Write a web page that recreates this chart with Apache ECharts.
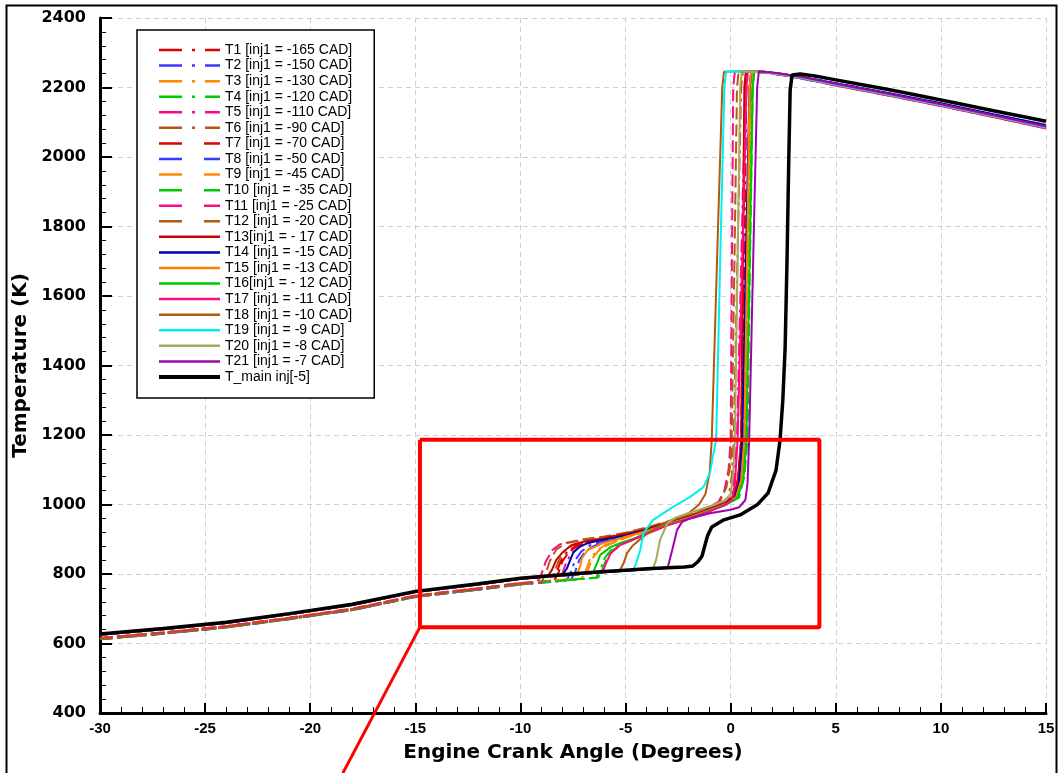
<!DOCTYPE html>
<html><head><meta charset="utf-8">
<script src="https://cdn.jsdelivr.net/npm/echarts@6/dist/echarts.min.js"></script>
<style>html,body{margin:0;padding:0;background:#fff}#c{width:1058px;height:773px}</style>
</head><body><div id="c"></div>
<script>
// ---------------- DATA ----------------
const xTicks = [-30,-25,-20,-15,-10,-5,0,5,10,15];
const yTicks = [400,600,800,1000,1200,1400,1600,1800,2000,2200,2400];
const seriesNames = [
 "T1 [inj1 = -165 CAD]","T2 [inj1 = -150 CAD]","T3 [inj1 = -130 CAD]","T4 [inj1 = -120 CAD]",
 "T5 [inj1 = -110 CAD]","T6 [inj1 = -90 CAD]","T7 [inj1 = -70 CAD]","T8 [inj1 = -50 CAD]",
 "T9 [inj1 = -45 CAD]","T10 [inj1 = -35 CAD]","T11 [inj1 = -25 CAD]","T12 [inj1 = -20 CAD]",
 "T13[inj1 = - 17 CAD]","T14 [inj1 = -15 CAD]","T15 [inj1 = -13 CAD]","T16[inj1 = - 12 CAD]",
 "T17 [inj1 = -11 CAD]","T18 [inj1 = -10 CAD]","T19 [inj1 = -9 CAD]","T20 [inj1 = -8 CAD]",
 "T21 [inj1 = -7 CAD]","T_main inj[-5]"
];
const T1 = [[-30,614],[-27,630],[-24,648],[-21,672],[-18,698],[-15,736],[-12,757],[-10,772],[-9,777],[-8.5,780],[-8.3,800],[-8.1,835],[-7.8,862],[-7.4,880],[-6.8,892],[-6,902],[-5,914],[-4,929],[-3,947],[-2,965],[-1,987],[-0.2,1005],[0.2,1022],[0.4,1070],[0.55,1186],[0.65,1700],[0.75,2200],[0.83,2246],[1.5,2245],[2.5,2236],[3.5,2226],[5,2208],[7.5,2180],[10,2150],[12.5,2118],[15,2087]];
const T2 = [[-30,612],[-27,628],[-24,646],[-21,670],[-18,696],[-15,734],[-12,755],[-10,770],[-9,775],[-8,780],[-7.8,783],[-7.6,805],[-7.4,840],[-7.1,865],[-6.7,882],[-6,895],[-5,910],[-4,926],[-3,946],[-2,963],[-1,986],[-0.2,1004],[0.25,1022],[0.45,1070],[0.6,1186],[0.78,1700],[0.95,2200],[1.03,2246],[1.6,2244],[2.5,2237],[3.5,2227],[5,2210],[7.5,2182],[10,2153],[12.5,2121],[15,2090]];
const T3 = [[-30,616],[-27,632],[-24,650],[-21,674],[-18,700],[-15,738],[-12,759],[-10,774],[-9,779],[-8,784],[-7.1,786],[-6.9,808],[-6.7,842],[-6.4,866],[-6,882],[-5,905],[-4,924],[-3,944],[-2,962],[-1,984],[-0.2,1002],[0.3,1022],[0.55,1075],[0.7,1186],[0.82,1700],[0.95,2200],[1.03,2246],[1.6,2245],[2.5,2238],[3.5,2228],[5,2211],[7.5,2181],[10,2151],[12.5,2119],[15,2088]];
const T4 = [[-30,613],[-27,629],[-24,647],[-21,671],[-18,697],[-15,735],[-12,756],[-10,771],[-9,776],[-8,781],[-7,786],[-6.4,789],[-6.2,812],[-6,845],[-5.7,868],[-5.3,884],[-4.6,900],[-4,918],[-3,942],[-2,961],[-1,983],[-0.2,1001],[0.35,1020],[0.6,1075],[0.75,1186],[0.88,1700],[1,2200],[1.08,2246],[1.6,2244],[2.5,2236],[3.5,2225],[5,2207],[7.5,2178],[10,2148],[12.5,2116],[15,2084]];
const T5 = [[-30,615],[-27,631],[-24,649],[-21,673],[-18,699],[-15,737],[-12,758],[-10,773],[-9,778],[-8.2,781],[-8,803],[-7.8,838],[-7.5,864],[-7.1,881],[-6.5,893],[-5.5,906],[-4.5,920],[-3.5,937],[-2.5,955],[-1.5,975],[-0.6,996],[0,1012],[0.15,1060],[0.3,1186],[0.5,1700],[0.7,2200],[0.78,2246],[1.5,2244],[2.5,2235],[3.5,2224],[5,2206],[7.5,2177],[10,2147],[12.5,2115],[15,2083]];
const T6 = [[-30,613],[-27,629],[-24,647],[-21,671],[-18,697],[-15,735],[-12,756],[-10,771],[-9,776],[-8.6,779],[-8.4,801],[-8.2,836],[-7.9,866],[-7.5,884],[-6.8,895],[-6,905],[-5,917],[-4,932],[-3,950],[-2,968],[-1.2,986],[-0.5,1003],[-0.1,1020],[0.05,1080],[0.15,1186],[0.32,1700],[0.5,2200],[0.58,2246],[1.4,2245],[2.5,2237],[3.5,2227],[5,2209],[7.5,2180],[10,2150],[12.5,2118],[15,2086]];
const T7 = [[-30,616],[-27,632],[-24,650],[-21,674],[-18,700],[-15,738],[-12,759],[-10,774],[-9,778],[-8.4,780],[-8.2,802],[-8,837],[-7.7,863],[-7.3,881],[-6.7,893],[-6,903],[-5,915],[-4,930],[-3,948],[-2,966],[-1,988],[-0.2,1006],[0.15,1022],[0.35,1070],[0.5,1186],[0.6,1700],[0.7,2200],[0.78,2246],[1.5,2245],[2.5,2237],[3.5,2228],[5,2210],[7.5,2181],[10,2151],[12.5,2119],[15,2087]];
const T8 = [[-30,612],[-27,628],[-24,646],[-21,670],[-18,696],[-15,734],[-12,755],[-10,770],[-9,776],[-8,781],[-7.6,784],[-7.4,806],[-7.2,841],[-6.9,865],[-6.5,881],[-5.8,895],[-5,909],[-4,925],[-3,945],[-2,963],[-1,985],[-0.2,1003],[0.25,1021],[0.45,1070],[0.6,1186],[0.75,1700],[0.9,2200],[0.98,2246],[1.6,2245],[2.5,2238],[3.5,2229],[5,2212],[7.5,2183],[10,2154],[12.5,2122],[15,2091]];
const T9 = [[-30,615],[-27,631],[-24,649],[-21,673],[-18,699],[-15,737],[-12,758],[-10,773],[-9,778],[-8,783],[-7,787],[-6.8,809],[-6.6,843],[-6.3,866],[-5.9,882],[-5,904],[-4,923],[-3,943],[-2,961],[-1,983],[-0.2,1001],[0.3,1020],[0.55,1075],[0.7,1186],[0.82,1700],[0.95,2200],[1.03,2246],[1.6,2244],[2.5,2236],[3.5,2226],[5,2208],[7.5,2179],[10,2149],[12.5,2117],[15,2085]];
const T10 = [[-30,613],[-27,629],[-24,647],[-21,671],[-18,697],[-15,735],[-12,756],[-10,771],[-9,776],[-8,781],[-7,786],[-6.3,790],[-6.1,813],[-5.9,846],[-5.6,869],[-5.2,885],[-4.5,901],[-4,917],[-3,941],[-2,960],[-1,982],[-0.2,1000],[0.4,1020],[0.65,1080],[0.8,1186],[0.92,1700],[1.05,2200],[1.13,2246],[1.7,2244],[2.5,2237],[3.5,2227],[5,2209],[7.5,2180],[10,2150],[12.5,2118],[15,2086]];
const T11 = [[-30,615],[-27,631],[-24,649],[-21,673],[-18,699],[-15,737],[-12,758],[-10,773],[-9.2,777],[-9,800],[-8.8,835],[-8.5,868],[-8.1,886],[-7,897],[-6,905],[-5,916],[-4,931],[-3,949],[-2,967],[-1.2,985],[-0.6,1005],[-0.3,1040],[-0.1,1100],[0,1186],[0.06,1700],[0.12,2200],[0.2,2245],[1,2246],[2,2240],[3.3,2227],[5,2207],[7.5,2179],[10,2149],[12.5,2117],[15,2086]];
const T12 = [[-30,613],[-27,629],[-24,647],[-21,671],[-18,697],[-15,735],[-12,756],[-10,771],[-9,776],[-8.8,802],[-8.6,838],[-8.3,870],[-7.8,890],[-7,900],[-6,908],[-5,919],[-4,934],[-3,951],[-2,970],[-1.2,988],[-0.5,1010],[-0.2,1050],[0,1120],[0.05,1186],[0.18,1700],[0.3,2200],[0.38,2246],[1,2246],[2,2241],[3.3,2228],[5,2209],[7.5,2181],[10,2151],[12.5,2119],[15,2089]];
const T13 = [[-30,625],[-27,641],[-24,659],[-21,684],[-18,711],[-15,748],[-12,770],[-10,786],[-9,791],[-8.7,794],[-8.5,812],[-8.3,840],[-8,862],[-7.6,882],[-7,893],[-6,903],[-4.8,918],[-4,928],[-3.4,941],[-2.5,955],[-1.5,975],[-0.8,992],[-0.2,1008],[0.15,1025],[0.35,1075],[0.5,1186],[0.58,1700],[0.65,2200],[0.72,2245],[1.4,2246],[2.5,2238],[3.5,2228],[5,2211],[7.5,2182],[10,2152],[12.5,2120],[15,2088]];
const T14 = [[-30,625],[-27,641],[-24,659],[-21,684],[-18,711],[-15,748],[-12,770],[-10,786],[-9,791],[-8,797],[-7.8,815],[-7.5,860],[-7.2,878],[-6.8,889],[-6.2,897],[-5.6,904],[-5,911],[-4,926],[-3,945],[-2,962],[-1,985],[-0.2,1003],[0.2,1018],[0.4,1060],[0.55,1186],[0.72,1700],[0.9,2200],[0.98,2246],[1.6,2245],[2.5,2239],[3.5,2229],[5,2212],[7.5,2184],[10,2155],[12.5,2123],[15,2092]];
const T15 = [[-30,625],[-27,641],[-24,659],[-21,684],[-18,711],[-15,748],[-12,770],[-10,786],[-9,791],[-8,796],[-7.3,800],[-7.15,825],[-7.07,846],[-6.8,869],[-6.07,889],[-5.5,898],[-5,907],[-4,924],[-3,944],[-2,962],[-1,984],[-0.2,1002],[0.25,1020],[0.5,1070],[0.65,1186],[0.78,1700],[0.9,2200],[0.98,2246],[1.6,2245],[2.5,2237],[3.5,2227],[5,2209],[7.5,2180],[10,2151],[12.5,2119],[15,2087]];
const T16 = [[-30,625],[-27,641],[-24,659],[-21,684],[-18,711],[-15,748],[-12,770],[-10,786],[-9,791],[-8,796],[-7,801],[-6.55,803],[-6.4,825],[-6.2,855],[-5.7,878],[-5.2,890],[-4.6,902],[-4,918],[-3,942],[-2,960],[-1,982],[-0.2,1000],[0.3,1018],[0.6,1070],[0.75,1186],[0.9,1700],[1.05,2200],[1.12,2246],[1.7,2244],[2.5,2236],[3.5,2225],[5,2207],[7.5,2178],[10,2148],[12.5,2116],[15,2084]];
const T17 = [[-30,625],[-27,641],[-24,659],[-21,684],[-18,711],[-15,748],[-12,770],[-10,786],[-9,791],[-8,796],[-7,801],[-6.1,805],[-5.95,828],[-5.7,860],[-5.26,883],[-4.8,895],[-4,915],[-3,940],[-2,959],[-1,980],[-0.3,998],[0.05,1012],[0.2,1060],[0.33,1186],[0.55,1700],[0.75,2200],[0.82,2246],[1.5,2245],[2.5,2236],[3.5,2225],[5,2206],[7.5,2177],[10,2147],[12.5,2115],[15,2082]];
const T18 = [[-30,625],[-27,641],[-24,659],[-21,684],[-18,711],[-15,748],[-12,770],[-10,786],[-9,791],[-8,796],[-7,801],[-6,805],[-5.3,808],[-5.1,830],[-4.93,860],[-4.64,883],[-4.3,900],[-4,915],[-3.5,935],[-3,950],[-2,975],[-1.5,1000],[-1.2,1030],[-1,1091],[-0.9,1186],[-0.65,1700],[-0.4,2200],[-0.32,2245],[0.5,2247],[1.5,2244],[2.5,2237],[3.5,2227],[5,2209],[7.5,2180],[10,2150],[12.5,2118],[15,2086]];
const T19 = [[-30,625],[-27,641],[-24,659],[-21,684],[-18,711],[-15,748],[-12,770],[-10,786],[-9,791],[-8,796],[-7,801],[-6,805],[-5,809],[-4.65,810],[-4.5,830],[-4.3,869],[-4.15,918],[-3.7,955],[-2.74,993],[-1.93,1022],[-1.3,1050],[-0.98,1091],[-0.85,1137],[-0.69,1186],[-0.5,1700],[-0.3,2200],[-0.22,2246],[0.5,2247],[1.5,2244],[2.5,2237],[3.5,2226],[5,2208],[7.5,2179],[10,2149],[12.5,2117],[15,2085]];
const T20 = [[-30,625],[-27,641],[-24,659],[-21,684],[-18,711],[-15,748],[-12,770],[-10,786],[-9,791],[-8,796],[-7,801],[-6,805],[-5,809],[-4,813],[-3.7,815],[-3.55,840],[-3.36,898],[-3,947],[-2.6,963],[-2,975],[-1,995],[-0.3,1010],[0,1030],[0.12,1090],[0.2,1186],[0.33,1700],[0.45,2200],[0.53,2246],[1.3,2246],[2.5,2238],[3.5,2228],[5,2210],[7.5,2181],[10,2151],[12.5,2119],[15,2087]];
const T21 = [[-30,625],[-27,641],[-24,659],[-21,684],[-18,711],[-15,748],[-12,770],[-10,786],[-9,791],[-8,796],[-7,801],[-6,805],[-5,809],[-4,813],[-3,817],[-2.78,869],[-2.55,927],[-2.31,950],[-2,958],[-1,975],[0,985],[0.4,992],[0.7,1013],[0.8,1060],[0.88,1186],[1.07,1700],[1.26,2200],[1.34,2246],[1.9,2244],[2.5,2239],[3.5,2229],[5,2211],[7.5,2182],[10,2152],[12.5,2120],[15,2088]];
const Tmain = [[-30,627],[-27,643],[-24,661],[-21,686],[-18,713],[-15,750],[-12,772],[-10,788],[-9,793],[-8,798],[-7,803],[-6,807],[-5,811],[-4,815],[-3,818],[-2.2,820],[-1.8,823],[-1.55,836],[-1.36,852],[-1.2,888],[-1.1,910],[-0.9,935],[-0.36,955],[0.45,970],[1.26,999],[1.78,1033],[2.16,1099],[2.35,1186],[2.48,1300],[2.59,1450],[2.68,1700],[2.76,1980],[2.83,2193],[2.92,2236],[3.3,2239],[4,2233],[5,2222],[6,2211],[7.5,2194],[9,2176],[10,2164],[11,2152],[12.5,2133],[14,2115],[15,2103]];
const seriesData = [T1,T2,T3,T4,T5,T6,T7,T8,T9,T10,T11,T12,T13,T14,T15,T16,T17,T18,T19,T20,T21,Tmain];
// annotation (red zoom box and pointer line), in data units
const boxPath = [[-14.78,1186],[4.22,1186],[4.22,647],[-14.78,647],[-14.78,1186]];
const pointerPath = [[-14.78,647],[-18.45,227]];

// ---------------- STYLE ----------------
const colors = ['#dd0000','#3a3aff','#ff8800','#00cc00','#ff0a86','#b25a10',
                '#dd0000','#3a3aff','#ff8800','#00cc00','#ff0a86','#b25a10',
                '#cc0000','#0000b0','#ff8000','#00c800','#ff0a80','#b05a10','#00f0f0','#a8a860','#a000b0','#000000'];
function plotType(i){ if(i<6) return [13,5,3,5]; if(i<12) return [12,5]; return 'solid'; }
function legendType(i){ if(i<6) return [23,10,3,10]; if(i<12) return [23,22]; return 'solid'; }

const chart = echarts.init(document.getElementById('c'), null, {renderer:'canvas'});
const FONT = '"Liberation Sans", Arial, sans-serif';
const WFONT = '"DejaVu Sans", Verdana, sans-serif';
const series = seriesNames.map((n,i)=>({
  name:n, type:'line', data:seriesData[i], symbol:'none', animation:false,
  lineStyle:{color:colors[i], width:i===21?3.5:2, type:plotType(i)},
  itemStyle:{color:colors[i]}, z: i===21?5:3
}));
series.push({name:'box', type:'line', data:boxPath, symbol:'none', animation:false, clip:false, silent:true,
  lineStyle:{color:'#ff0000', width:4}, z:10});
series.push({name:'pointer', type:'line', data:pointerPath, symbol:'none', animation:false, clip:false, silent:true,
  lineStyle:{color:'#ff0000', width:3}, z:10});

const option = {
  backgroundColor:'#fff',
  animation:false,
  grid:{left:100, right:12, top:18, bottom:60},
  xAxis:{type:'value', min:-30, max:15, interval:5,
    name:'Engine Crank Angle (Degrees)', nameLocation:'middle', nameGap:30,
    nameTextStyle:{fontFamily:WFONT, fontWeight:'bold', fontSize:20, color:'#000'},
    axisLine:{show:true, onZero:false, lineStyle:{color:'#000', width:3}},
    axisTick:{show:true, inside:true, length:10, lineStyle:{color:'#000', width:2}},
    minorTick:{show:true, splitNumber:5, length:6, lineStyle:{color:'#000', width:1}},
    axisLabel:{fontFamily:FONT, fontWeight:'bold', fontSize:15, color:'#000', margin:8,
      formatter:v=>String(v)},
    splitLine:{show:true, lineStyle:{color:'#cfcfcf', width:1, type:[5,4]}}
  },
  yAxis:{type:'value', min:400, max:2400, interval:200,
    name:'Temperature (K)', nameLocation:'middle', nameGap:60,
    nameTextStyle:{fontFamily:WFONT, fontWeight:'bold', fontSize:20, color:'#000'},
    axisLine:{show:true, onZero:false, lineStyle:{color:'#000', width:3}},
    axisTick:{show:true, inside:true, length:12, lineStyle:{color:'#000', width:2}},
    minorTick:{show:true, splitNumber:5, length:6, lineStyle:{color:'#000', width:1}},
    axisLabel:{fontFamily:WFONT, fontWeight:'bold', fontSize:16, color:'#000', margin:14,
      formatter:v=>String(v)},
    splitLine:{show:true, lineStyle:{color:'#cfcfcf', width:1, type:[5,4]}}
  },
  legend:{
    orient:'vertical', left:137, top:30,
    data: seriesNames.map((n,i)=>({name:n, lineStyle:{type:legendType(i), width:i===21?4:2.5, color:colors[i]}})),
    itemWidth:61, itemHeight:10, itemGap:1.57,
    padding:[13,22,14,20],
    backgroundColor:'#fff', borderColor:'#000', borderWidth:1.5, borderRadius:0,
    textStyle:{fontFamily:FONT, fontSize:14, lineHeight:14, color:'#000'},
    itemStyle:{color:'rgba(0,0,0,0)', borderWidth:0, opacity:0},
    selectedMode:false
  },
  graphic:[{type:'rect', left:4, top:3, shape:{width:1050, height:775}, style:{fill:null, stroke:'#000', lineWidth:2}, silent:true, z:-1}],
  series: series
};
chart.setOption(option);
</script></body></html>
